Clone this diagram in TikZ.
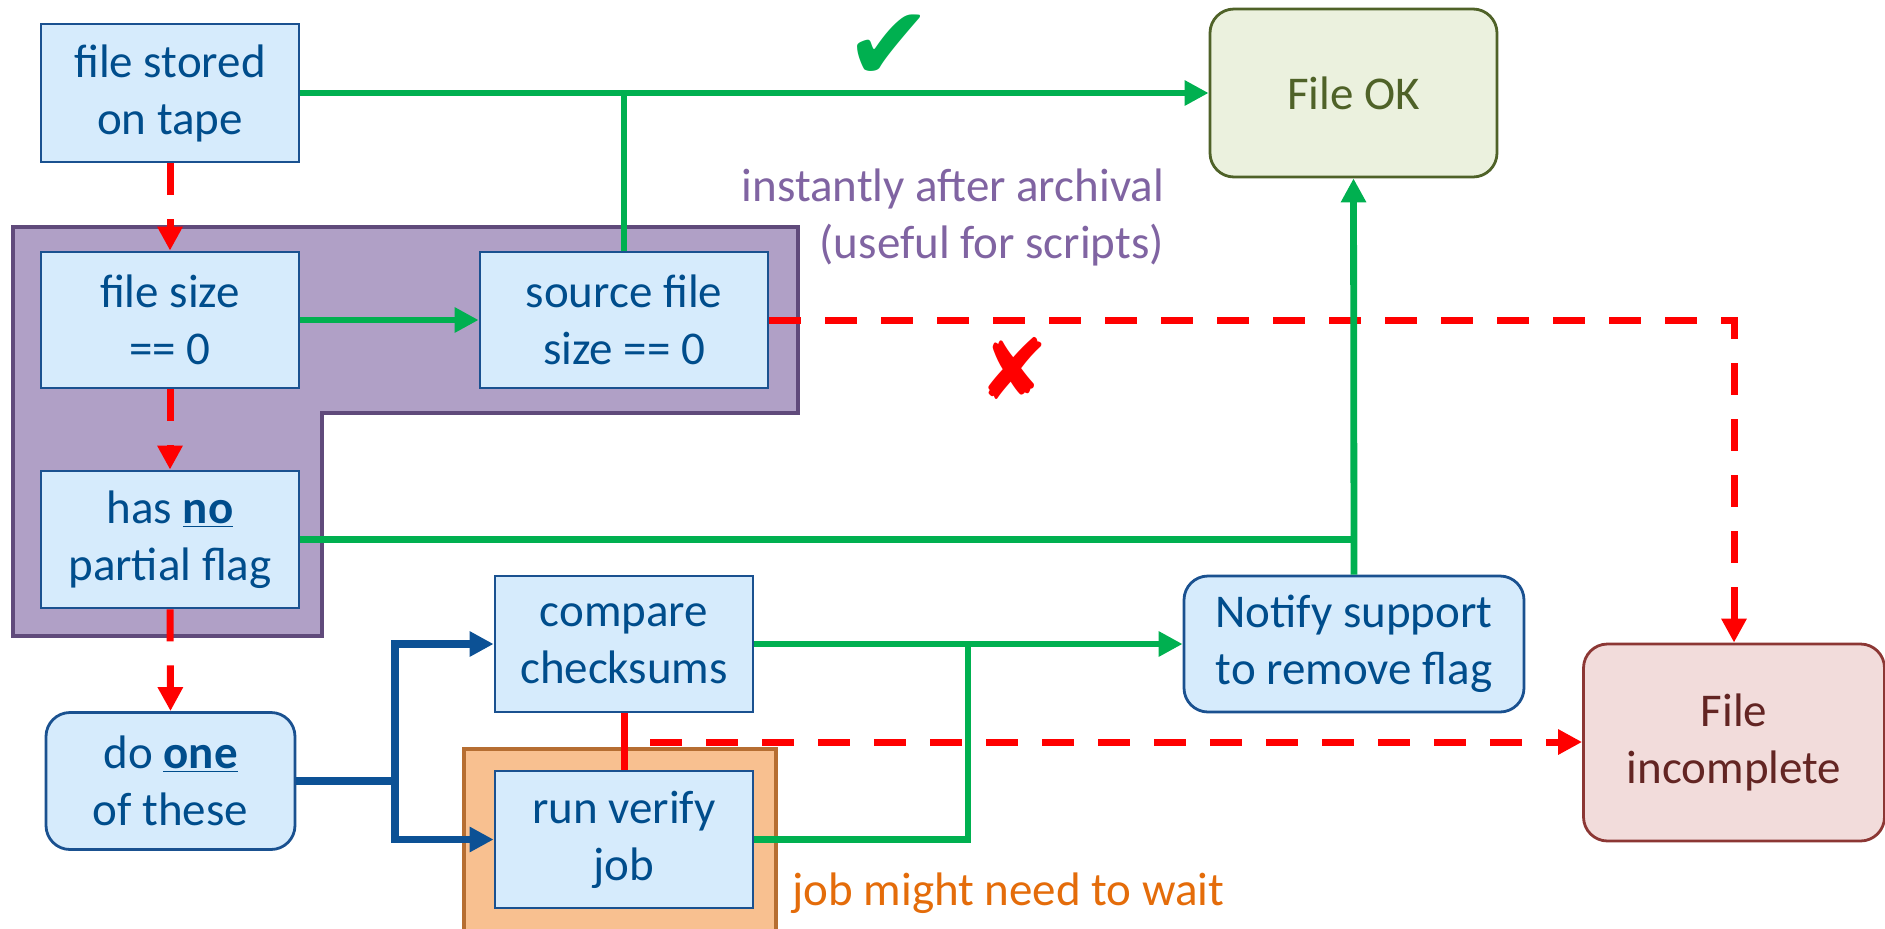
\documentclass[tikz,border=0pt]{standalone}
\usepackage{fontspec}
\setmainfont{Carlito}
\newfontfamily\symfont{DejaVu Sans}
\usetikzlibrary{arrows.meta}
\definecolor{bxfill}{HTML}{D6EBFC}
\definecolor{bxline}{HTML}{1A5190}
\definecolor{bxtext}{HTML}{004D8C}
\definecolor{purfill}{HTML}{B0A0C6}
\definecolor{purline}{HTML}{604A7B}
\definecolor{purtext}{HTML}{8064A2}
\definecolor{orfill}{HTML}{F8C090}
\definecolor{orline}{HTML}{B66E32}
\definecolor{ortext}{HTML}{E46C0A}
\definecolor{okfill}{HTML}{EBF1DE}
\definecolor{okline}{HTML}{4F6228}
\definecolor{incfill}{HTML}{F2DCDB}
\definecolor{incline}{HTML}{8C3734}
\definecolor{inctext}{HTML}{632523}
\definecolor{gline}{HTML}{00B050}
\definecolor{rline}{HTML}{FF0000}
\definecolor{bline}{HTML}{0C5195}
\newcommand\bxf{\fontsize{23.5pt}{28.5pt}\selectfont}
\begin{document}
\begin{tikzpicture}[x=0.5pt,y=-0.5pt,
  box/.style={draw=bxline, fill=bxfill, line width=1.4pt, text=bxtext, align=center, inner sep=0pt, font=\bxf},
  rbox/.style={box, rounded corners=12pt},
  gconn/.style={draw=gline, line width=3.4pt},
  bconn/.style={draw=bline, line width=3.8pt},
  rdash/.style={draw=rline, line width=3.5pt, dash pattern=on 16pt off 12pt},
  rsolid/.style={draw=rline, line width=3.5pt},
  tip/.style={-{Triangle[length=12pt,width=12pt]}},
  tipb/.style={{Triangle[length=12pt,width=12pt]}-{Triangle[length=12pt,width=12pt]}}
]
\useasboundingbox (0,0) rectangle (1885,928);
\fill[white] (0,0) rectangle (1885,928);
% group backgrounds
\draw[fill=purfill, draw=purline, line width=2pt] (13,227) -- (798,227) -- (798,413) -- (322,413) -- (322,636) -- (13,636) -- cycle;
\draw[fill=orfill, draw=orline, line width=2.2pt] (464,749) rectangle (776,945);
% nodes
\node[box, minimum width=129pt, minimum height=69pt] (fs) at (170,93) {file stored\\on tape};
\node[box, minimum width=129pt, minimum height=68pt] (fz) at (170,320) {file size\\== 0};
\node[box, minimum width=144pt, minimum height=68pt] (sf) at (624,320) {source file\\size == 0};
\node[box, minimum width=129pt, minimum height=68.5pt] (np) at (170,539.5) {has \textbf{\underline{no}}\\partial flag};
\node[rbox, minimum width=124.5pt, minimum height=68.5pt] (do) at (170.5,781) {do \textbf{\underline{one}}\\of these};
\node[box, minimum width=129pt, minimum height=68pt] (cc) at (624,644) {compare\\checksums};
\node[box, minimum width=129pt, minimum height=68.5pt] (rv) at (624,839.5) {run verify\\job};
\node[rbox, minimum width=170pt, minimum height=68pt] (ns) at (1354,644) {Notify support\\to remove flag};
\node[rbox, draw=okline, fill=okfill, text=okline, minimum width=143.5pt, minimum height=84pt] (ok) at (1353.5,93) {File OK};
\node[rbox, draw=incline, fill=incfill, text=inctext, minimum width=150.5pt, minimum height=98.5pt] (inc) at (1734,742.5) {File\\incomplete};
% annotations
\node[text=purtext, align=right, anchor=east, font=\bxf] (ann1) at (1171,217.5) {instantly after archival\\(useful for scripts)};
\node[text=ortext, anchor=west, font=\bxf, inner sep=0pt] (ann2) at (792,893) {job might need to wait};
\node[text=gline, font=\symfont\fontsize{52pt}{52pt}\selectfont, inner sep=0pt, text height=32pt, text depth=0pt, anchor=base] (chk) at (889,80) {✔};
\node[text=rline, font=\symfont\fontsize{42pt}{42pt}\selectfont, inner sep=0pt] (crs) at (1014,368) {✘};
% coordinates
\coordinate (bj) at (395,781);
\coordinate (gj) at (968,644);
\coordinate (rs0) at (650,742);
% red dashed connectors
\draw[rdash, tip] (fs.south) -- (fz.north);
\draw[rdash, tip] (fz.south) -- (np.north);
\draw[rdash, tip] (np.south) -- (do.north);
\draw[rdash, tip] (sf.east) -- (sf.east -| inc.north) -- (inc.north);
\draw[rdash, tip] (rs0) -- (rs0 -| inc.west);
\draw[rsolid] (cc.south) -- (rv.north);
% green connectors
\draw[gconn, tip] (fs.east) -- (ok.west);
\draw[gconn] (sf.north) -- (sf.north |- fs.east);
\draw[gconn, tip] (fz.east) -- (sf.west);
\draw[gconn] (np.east) -- (np.east -| ok.south);
\draw[gconn, tip] (ns.north) -- (ok.south);
\draw[gconn, tip] (cc.east) -- (ns.west);
\draw[gconn] (rv.east) -| (gj);
% blue connectors
\draw[bconn] (do.east) -- (bj);
\draw[bconn, tipb] (cc.west) -| (bj) |- (rv.west);
\end{tikzpicture}
\end{document}
